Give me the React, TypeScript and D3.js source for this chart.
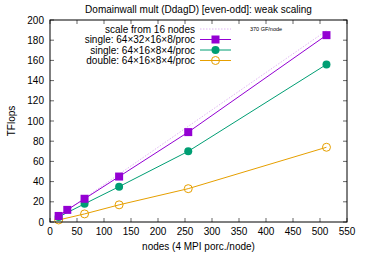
import React from "react";
import * as d3 from "d3";

const xTicks = [0, 50, 100, 150, 200, 250, 300, 350, 400, 450, 500, 550];
const yTicks = [0, 20, 40, 60, 80, 100, 120, 140, 160, 180, 200];

const nodesSingleLarge = [16, 32, 64, 128, 256, 512];
const singleLarge = [6, 12, 23, 45, 89, 185];
const nodesSingleSmall = [16, 64, 128, 256, 512];
const singleSmall = [5, 18, 35, 70, 156];
const nodesDouble = [16, 64, 128, 256, 512];
const doubleSmall = [2, 8, 17, 33, 74];
const scaleNodes = [16, 512];
const scaleValues = [5.92, 189.44];

const legendLabels = [
  "scale from 16 nodes",
  "single: 64×32×16×8/proc",
  "single: 64×16×8×4/proc",
  "double: 64×16×8×4/proc",
];

export default function App() {
  const W = 366, H = 255;
  const L = 50, R = 347, T = 20, B = 222;
  const x = d3.scaleLinear().domain([0, 550]).range([L, R]);
  const y = d3.scaleLinear().domain([0, 200]).range([B, T]);
  const line = (xs: number[], ys: number[]) =>
    d3.line<number>().x((_, i) => x(xs[i])).y((d) => y(d))(ys) || "";
  const purple = "#9400d3", green = "#009e73", orange = "#e69f00", light = "#d9a6f0";
  const font = "Liberation Sans, Arial, sans-serif";
  const fs = 10;
  const legY = [29, 39.5, 50, 60.5];
  return (
    <svg width={W} height={H} style={{ position: "absolute", left: 0, top: 0, background: "#fff" }} fontFamily={font}>
      <rect width={W} height={H} fill="#fff" />
      {xTicks.map((t) => (
        <g key={"x" + t}>
          <line x1={x(t)} x2={x(t)} y1={B} y2={B - 4} stroke="#000" strokeWidth={0.6} />
          <line x1={x(t)} x2={x(t)} y1={T} y2={T + 4} stroke="#000" strokeWidth={0.6} />
          <text x={x(t)} y={B + 13} fontSize={fs} textAnchor="middle">{t}</text>
        </g>
      ))}
      {yTicks.map((t) => (
        <g key={"y" + t}>
          <line x1={L} x2={L + 4} y1={y(t)} y2={y(t)} stroke="#000" strokeWidth={0.6} />
          <line x1={R} x2={R - 4} y1={y(t)} y2={y(t)} stroke="#000" strokeWidth={0.6} />
          <text x={L - 6} y={y(t) + 3.5} fontSize={fs} textAnchor="end">{t}</text>
        </g>
      ))}
      <text x={(L + R) / 2} y={13} fontSize={fs} textAnchor="middle">Domainwall mult (DdagD) [even-odd]: weak scaling</text>
      <text x={(L + R) / 2} y={250} fontSize={fs} textAnchor="middle">nodes (4 MPI porc./node)</text>
      <text transform={`translate(15,${(T + B) / 2}) rotate(-90)`} fontSize={fs} textAnchor="middle">TFlops</text>
      <path d={line(scaleNodes, scaleValues)} fill="none" stroke={light} strokeWidth={0.8} strokeDasharray="1.5,1.5" />
      <path d={line(nodesDouble, doubleSmall)} fill="none" stroke={orange} strokeWidth={1} />
      <path d={line(nodesSingleSmall, singleSmall)} fill="none" stroke={green} strokeWidth={1} />
      <path d={line(nodesSingleLarge, singleLarge)} fill="none" stroke={purple} strokeWidth={1} />
      {nodesDouble.map((n, i) => (
        <circle key={"d" + i} cx={x(n)} cy={y(doubleSmall[i])} r={4} fill="none" stroke={orange} strokeWidth={1} />
      ))}
      {nodesSingleSmall.map((n, i) => (
        <circle key={"s" + i} cx={x(n)} cy={y(singleSmall[i])} r={4} fill={green} />
      ))}
      {nodesSingleLarge.map((n, i) => (
        <rect key={"l" + i} x={x(n) - 4} y={y(singleLarge[i]) - 4} width={8} height={8} fill={purple} />
      ))}
      {legendLabels.map((lab, i) => (
        <text key={"lg" + i} x={195} y={legY[i] + 3.5} fontSize={fs} textAnchor="end">{lab}</text>
      ))}
      <line x1={200} x2={231} y1={legY[0]} y2={legY[0]} stroke={light} strokeWidth={0.8} strokeDasharray="1.5,1.5" />
      <text x={250} y={legY[0] + 2} fontSize={5.5}>370 GF/node</text>
      <line x1={200} x2={231} y1={legY[1]} y2={legY[1]} stroke={purple} strokeWidth={1} />
      <rect x={211.5} y={legY[1] - 4} width={8} height={8} fill={purple} />
      <line x1={200} x2={231} y1={legY[2]} y2={legY[2]} stroke={green} strokeWidth={1} />
      <circle cx={215.5} cy={legY[2]} r={4} fill={green} />
      <line x1={200} x2={231} y1={legY[3]} y2={legY[3]} stroke={orange} strokeWidth={1} />
      <circle cx={215.5} cy={legY[3]} r={4} fill="none" stroke={orange} strokeWidth={1} />
      <rect x={L} y={T} width={R - L} height={B - T} fill="none" stroke="#000" strokeWidth={1} />
    </svg>
  );
}
